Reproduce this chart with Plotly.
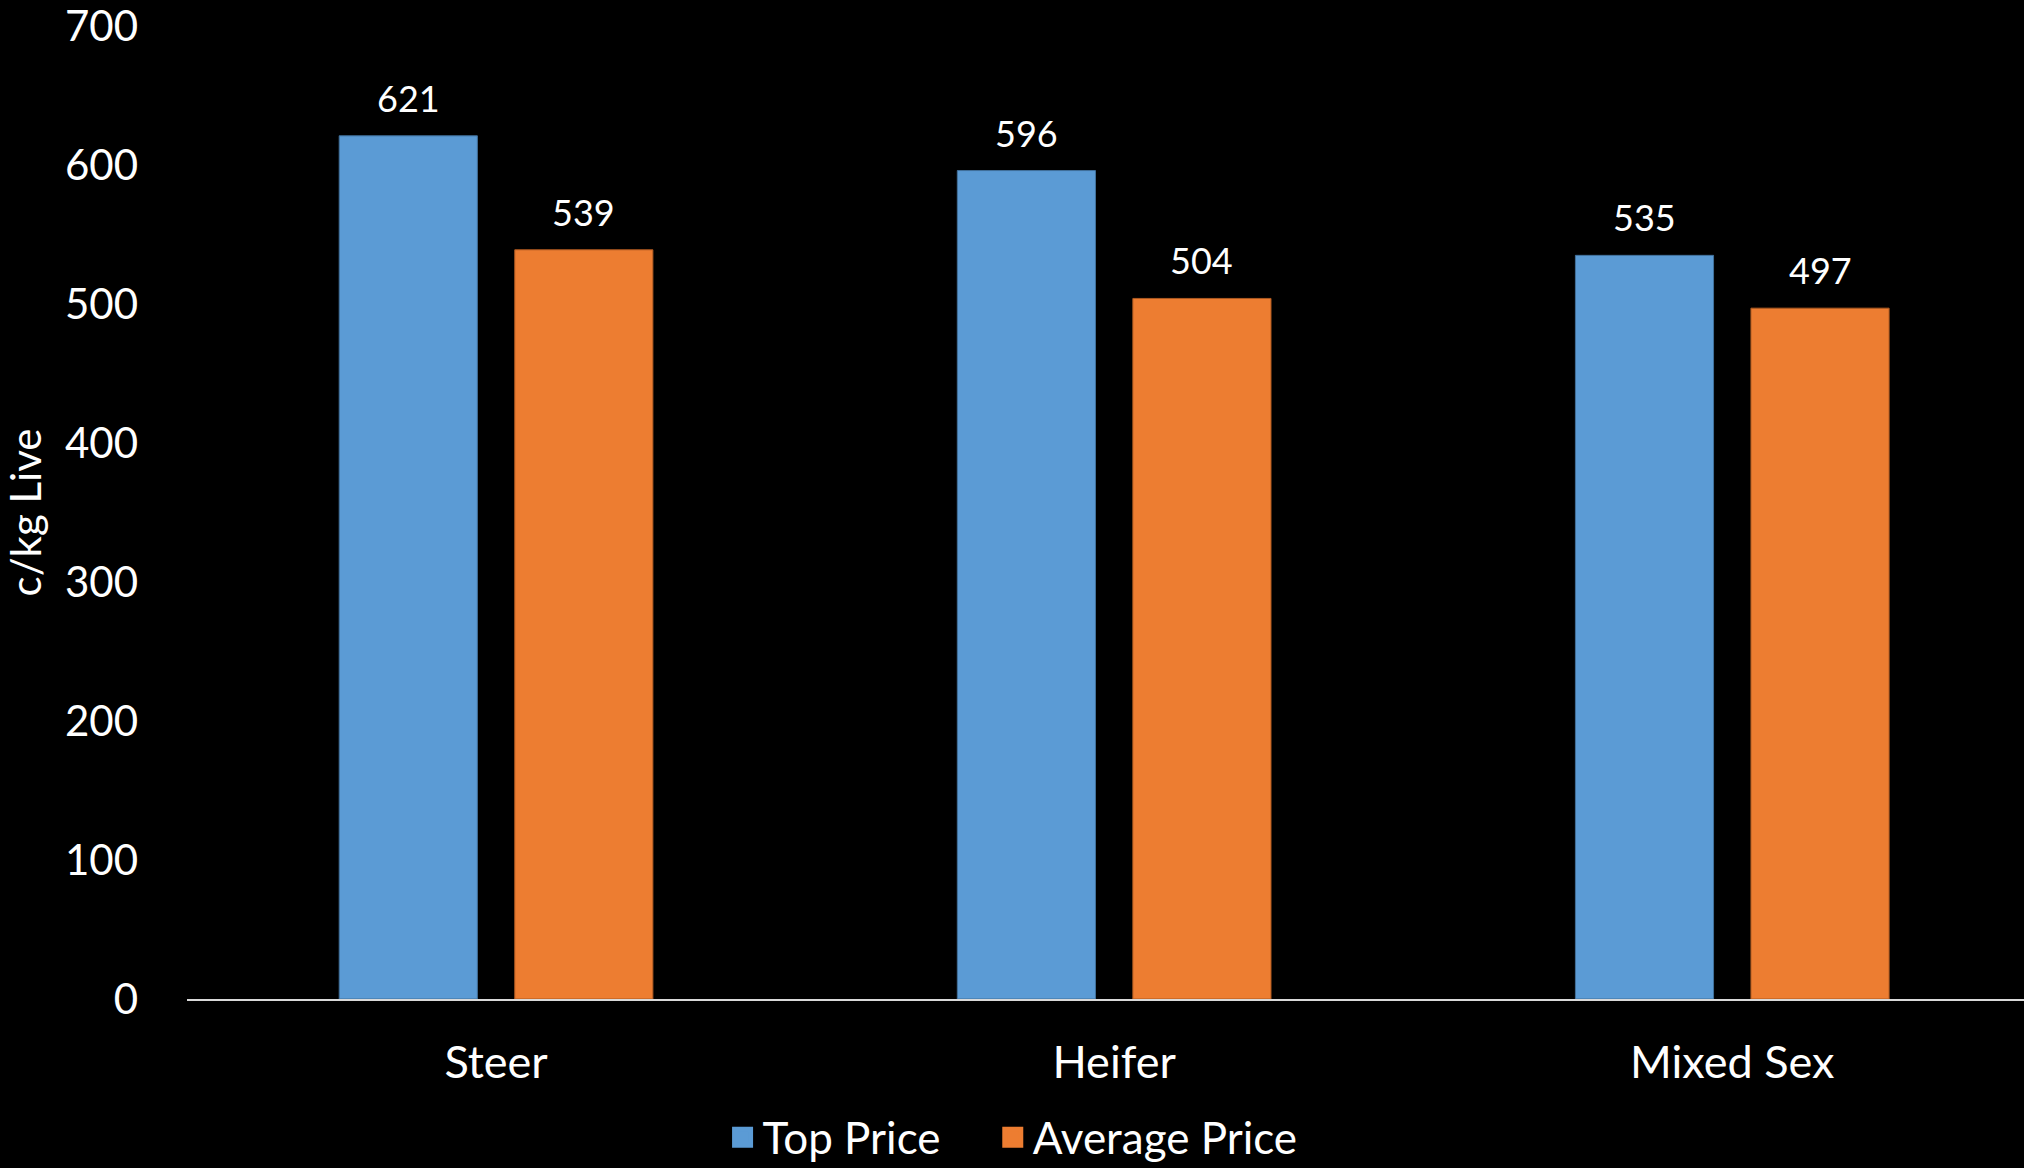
import plotly.graph_objects as go

categories = ["Steer", "Heifer", "Mixed Sex"]
top_price = [621, 596, 535]
average_price = [539, 504, 497]
series_names = ["Top Price", "Average Price"]
y_ticks = [0, 100, 200, 300, 400, 500, 600, 700]

BLUE = "#5B9BD5"
ORANGE = "#ED7D31"
FONT = "Lato"
BARGAP = 0.432
BARGROUPGAP = 0.213

fig = go.Figure()
series = [
    (series_names[0], top_price, BLUE, "#41719C", "legend"),
    (series_names[1], average_price, ORANGE, "#AE5A21", "legend2"),
]
for name, vals, col, edge, lg in series:
    fig.add_trace(go.Bar(
        x=categories, y=vals, name=name,
        marker=dict(color=col, line=dict(color=edge, width=1)),
        showlegend=False,
    ))
    fig.add_trace(go.Scatter(
        x=[None], y=[None], mode="markers", name=name, legend=lg,
        marker=dict(symbol="square", size=16, color=col, line=dict(color=col, width=6)),
        showlegend=True,
    ))

# data labels above each bar (offset from category centre follows grouped-bar geometry)
slot = (1 - BARGAP) / len(series)
for k, (name, vals, col, edge, lg) in enumerate(series):
    off = -(1 - BARGAP) / 2 + slot * (k + 0.5)
    for i, v in enumerate(vals):
        fig.add_annotation(
            x=i + off, y=v, xref="x", yref="y", text=str(v),
            showarrow=False, yanchor="bottom", yshift=14,
            font=dict(family=FONT, size=36, color="white"),
        )

legend_common = dict(orientation="h", xref="container", yref="container",
                     y=0.026, xanchor="left", yanchor="middle",
                     font=dict(family=FONT, size=44, color="white"),
                     bgcolor="rgba(0,0,0,0)", itemwidth=30)

fig.update_layout(
    width=2024, height=1168,
    paper_bgcolor="black", plot_bgcolor="black",
    font=dict(family=FONT, color="white", size=42),
    margin=dict(l=187, r=0, t=24, b=169),
    barmode="group", bargap=BARGAP, bargroupgap=BARGROUPGAP,
    showlegend=True,
    legend=dict(x=0.357, **legend_common),
    legend2=dict(x=0.4905, **legend_common),
)
fig.update_xaxes(
    type="category", range=[-0.5, 2.472],
    showline=True, linecolor="#d9d9d9", linewidth=2,
    showgrid=False, zeroline=False, ticks="",
    ticklabelstandoff=23,
    tickfont=dict(family=FONT, size=45, color="white"),
)
fig.update_yaxes(
    range=[0, 700], tickvals=y_ticks, ticktext=[str(t) for t in y_ticks],
    showline=False, showgrid=False, zeroline=False, ticks="",
    ticklabelstandoff=48, ticklabeloverflow="allow",
    tickfont=dict(family=FONT, size=42, color="white"),
    title=dict(text="c/kg Live", font=dict(family=FONT, size=42, color="white"), standoff=14),
)

fig.write_html(
    "out.html",
    config={"displayModeBar": False},
    post_script="document.body.style.margin='0';document.body.style.padding='0';"
                "document.body.style.overflow='hidden';",
)
